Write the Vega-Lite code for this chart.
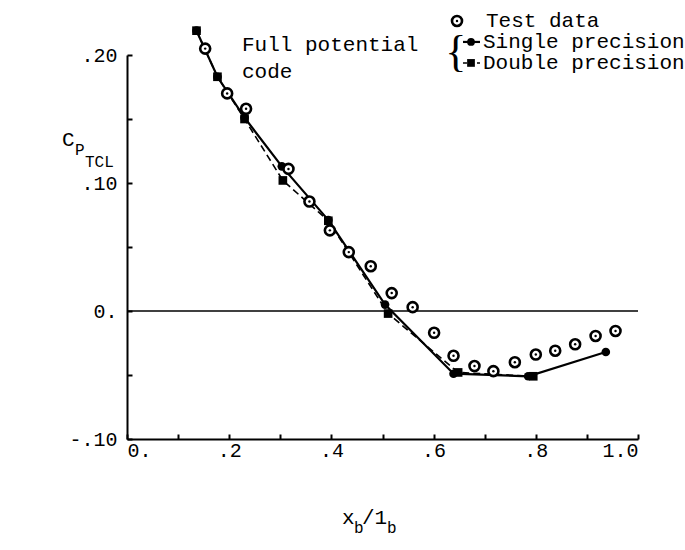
{
  "$schema": "https://vega.github.io/schema/vega-lite/v6.json",
  "autosize": "none",
  "width": 511,
  "height": 384,
  "padding": {"left": 127, "top": 55, "right": 47, "bottom": 111},
  "background": "white",
  "config": {
    "view": {"stroke": null},
    "axis": {
      "domainColor": "black", "domainWidth": 2, "tickColor": "black", "tickWidth": 2,
      "labelColor": "black", "labelFont": "Liberation Mono", "labelFontSize": 20, "grid": false
    }
  },
  "datasets": {
    "test": [
      {"x": 0.153, "y": 0.205}, {"x": 0.196, "y": 0.170}, {"x": 0.233, "y": 0.158},
      {"x": 0.316, "y": 0.111}, {"x": 0.357, "y": 0.0855}, {"x": 0.397, "y": 0.063},
      {"x": 0.434, "y": 0.046}, {"x": 0.477, "y": 0.035}, {"x": 0.518, "y": 0.014},
      {"x": 0.559, "y": 0.003}, {"x": 0.601, "y": -0.017}, {"x": 0.639, "y": -0.035},
      {"x": 0.680, "y": -0.043}, {"x": 0.717, "y": -0.047}, {"x": 0.759, "y": -0.040},
      {"x": 0.800, "y": -0.034}, {"x": 0.838, "y": -0.031}, {"x": 0.877, "y": -0.026},
      {"x": 0.917, "y": -0.0195}, {"x": 0.956, "y": -0.0156}
    ],
    "single": [
      {"x": 0.136, "y": 0.219}, {"x": 0.177, "y": 0.183}, {"x": 0.230, "y": 0.151},
      {"x": 0.303, "y": 0.113}, {"x": 0.394, "y": 0.071}, {"x": 0.505, "y": 0.005},
      {"x": 0.639, "y": -0.049}, {"x": 0.785, "y": -0.051}, {"x": 0.937, "y": -0.032}
    ],
    "double": [
      {"x": 0.136, "y": 0.219}, {"x": 0.177, "y": 0.183}, {"x": 0.230, "y": 0.150},
      {"x": 0.305, "y": 0.102}, {"x": 0.394, "y": 0.0705}, {"x": 0.511, "y": -0.002},
      {"x": 0.648, "y": -0.048}, {"x": 0.795, "y": -0.051}
    ],
    "legTest": [{"x": 0.6458, "y": 0.2266}],
    "legSingleLine": [{"x": 0.6575, "y": 0.2102}, {"x": 0.6908, "y": 0.2102}],
    "legSingleDot": [{"x": 0.6732, "y": 0.2102}],
    "legDoubleLine": [{"x": 0.6575, "y": 0.1938}, {"x": 0.6908, "y": 0.1938}],
    "legDoubleDot": [{"x": 0.6732, "y": 0.1938}],
    "mainText": [
      {"x": 0.7025, "y": 0.2266, "text": "Test data"},
      {"x": 0.6967, "y": 0.2102, "text": "Single precision"},
      {"x": 0.6967, "y": 0.1938, "text": "Double precision"},
      {"x": 0.225, "y": 0.2078, "text": "Full potential"},
      {"x": 0.225, "y": 0.1867, "text": "code"},
      {"x": 0.4207, "y": -0.1617, "text": "x"},
      {"x": 0.4599, "y": -0.1617, "text": "/1"},
      {"x": -0.1272, "y": 0.1336, "text": "C"}
    ],
    "subText": [
      {"x": 0.4442, "y": -0.1695, "text": "b"},
      {"x": 0.5088, "y": -0.1695, "text": "b"},
      {"x": -0.1018, "y": 0.1258, "text": "P"},
      {"x": -0.0822, "y": 0.1164, "text": "TCL"}
    ],
    "brace": [{"x": 0.664, "y": 0.2015, "text": "{"}],
    "zero": [{"x": 0, "x2": 1, "y": 0}]
  },
  "encoding": {
    "x": {
      "field": "x", "type": "quantitative",
      "scale": {"domain": [0, 1], "nice": false, "zero": false},
      "axis": {
        "title": null,
        "values": [0, 0.1, 0.2, 0.3, 0.4, 0.5, 0.6, 0.7, 0.8, 0.9, 1.0],
        "tickSize": -5, "labelPadding": 16, "labelBaseline": "middle",
        "labelExpr": "datum.value == 0 ? '0.' : datum.value == 1 ? '1.0' : (round(datum.value*10) % 2 == 0 ? replace(format(datum.value, '.1f'), '0.', '.') : '')"
      }
    },
    "y": {
      "field": "y", "type": "quantitative",
      "scale": {"domain": [-0.1, 0.2], "nice": false, "zero": false},
      "axis": {
        "title": null,
        "values": [-0.1, -0.05, 0, 0.05, 0.1, 0.15, 0.2],
        "tickSize": -5, "labelPadding": 15,
        "labelExpr": "datum.value == 0 ? '0.' : (round(datum.value*100) % 10 == 0 ? replace(replace(format(datum.value, '.2f'), '0.', '.'), '\u2212', '-') : '')"
      }
    }
  },
  "layer": [
    {"data": {"name": "zero"}, "mark": {"type": "rule", "color": "black", "strokeWidth": 1.5},
     "encoding": {"x2": {"field": "x2"}}},
    {"data": {"name": "single"}, "mark": {"type": "line", "color": "black", "strokeWidth": 2.2}},
    {"data": {"name": "single"}, "mark": {"type": "point", "shape": "circle", "filled": true, "color": "black", "size": 75, "opacity": 1}},
    {"data": {"name": "double"}, "mark": {"type": "line", "color": "black", "strokeWidth": 1.6, "strokeDash": [7, 4]}},
    {"data": {"name": "double"}, "mark": {"type": "point", "shape": "square", "filled": true, "color": "black", "size": 75, "opacity": 1}},
    {"data": {"name": "test"}, "mark": {"type": "point", "shape": "circle", "filled": true, "fill": "white", "stroke": "black", "strokeWidth": 2.6, "size": 100, "opacity": 1}},
    {"data": {"name": "test"}, "mark": {"type": "point", "shape": "circle", "filled": true, "color": "black", "size": 6, "opacity": 1}},
    {"data": {"name": "legTest"}, "mark": {"type": "point", "shape": "circle", "filled": true, "fill": "white", "stroke": "black", "strokeWidth": 2.6, "size": 100, "opacity": 1}},
    {"data": {"name": "legTest"}, "mark": {"type": "point", "shape": "circle", "filled": true, "color": "black", "size": 6, "opacity": 1}},
    {"data": {"name": "legSingleLine"}, "mark": {"type": "line", "color": "black", "strokeWidth": 2.2}},
    {"data": {"name": "legSingleDot"}, "mark": {"type": "point", "shape": "circle", "filled": true, "color": "black", "size": 60, "opacity": 1}},
    {"data": {"name": "legDoubleLine"}, "mark": {"type": "line", "color": "black", "strokeWidth": 1.6, "strokeDash": [4, 3]}},
    {"data": {"name": "legDoubleDot"}, "mark": {"type": "point", "shape": "square", "filled": true, "color": "black", "size": 60, "opacity": 1}},
    {"data": {"name": "mainText"}, "mark": {"type": "text", "align": "left", "baseline": "middle", "font": "Liberation Mono", "fontSize": 21, "color": "black"},
     "encoding": {"text": {"field": "text"}}},
    {"data": {"name": "subText"}, "mark": {"type": "text", "align": "left", "baseline": "middle", "font": "Liberation Mono", "fontSize": 16, "color": "black"},
     "encoding": {"text": {"field": "text"}}},
    {"data": {"name": "brace"}, "mark": {"type": "text", "align": "right", "baseline": "middle", "font": "Liberation Serif", "fontSize": 44, "fontWeight": 300, "color": "black"},
     "encoding": {"text": {"field": "text"}}}
  ]
}
